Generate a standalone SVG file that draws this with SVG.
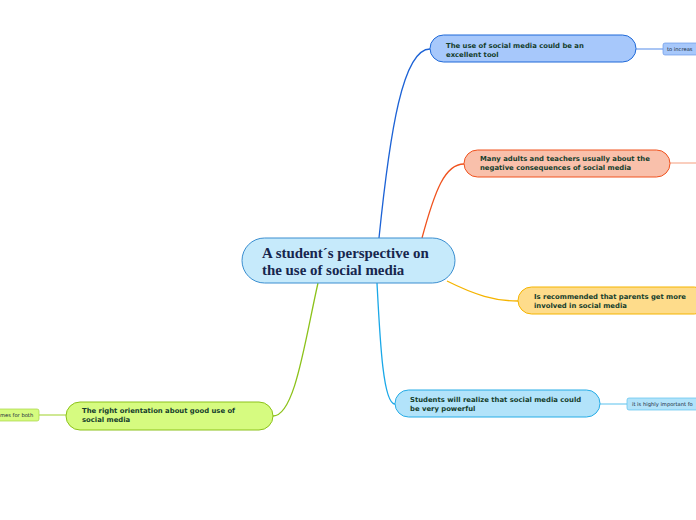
<svg xmlns="http://www.w3.org/2000/svg" width="696" height="520" viewBox="0 0 696 520">
<style>
.t{font-family:"DejaVu Sans",Verdana,sans-serif;font-weight:bold;font-size:6.85px;fill:#143d2c}
.s{font-family:"DejaVu Sans",Verdana,sans-serif;font-size:5.2px;fill:#1a2a3a}
.c{font-family:"Liberation Serif","Times New Roman",serif;font-weight:bold;font-size:14.9px;fill:#17264d}
.conn path{fill:none;stroke-width:1.3}
</style>
<rect width="696" height="520" fill="#ffffff"/>
<g id="connectors" class="conn">
<path d="M379,238 C390,130 403,49 430,49" stroke="#1d63d6"/>
<path d="M422,238 C435,190 445,164 464,164" stroke="#f0521e"/>
<path d="M447,281 C475,295 495,301 518,301" stroke="#f5b400"/>
<path d="M377,283 C380,340 383,404 395,404" stroke="#1aa8e8"/>
<path d="M318,283 C305,340 295,416 273,416" stroke="#8cc21a"/>
<path d="M636,49 L663,49" stroke="#7aa6ef" stroke-width="0.8"/>
<path d="M670,163 L696,163" stroke="#f7b39b" stroke-width="0.8"/>
<path d="M600,404 L627,404" stroke="#7fd0f2" stroke-width="0.8"/>
<path d="M39,415 L66,415" stroke="#b5dc5a" stroke-width="0.8"/>
</g>
<g id="central">
<rect x="242" y="238" width="213" height="45" rx="22.5" fill="#c6eafb" stroke="#3a8ed0" stroke-width="1"/>
<text class="c" x="262" y="258">A student´s perspective on</text>
<text class="c" x="262" y="275">the use of social media</text>
</g>
<g id="node1">
<rect x="430" y="35" width="206" height="27" rx="13.5" fill="#a7c8fb" stroke="#1f69d8" stroke-width="1"/>
<text class="t" x="446" y="48">The use of social media could be an</text>
<text class="t" x="446" y="56.5">excellent tool</text>
</g>
<g id="node1a">
<rect x="663" y="43" width="40" height="12" rx="2" fill="#a7c8fb" stroke="#6b9ae8" stroke-width="0.7"/>
<text class="s" x="667" y="51">to  increas</text>
</g>
<g id="node2">
<rect x="464" y="150" width="206" height="27" rx="13.5" fill="#f9c0ab" stroke="#f0521e" stroke-width="1"/>
<text class="t" x="480" y="161">Many adults and teachers usually about the</text>
<text class="t" x="480" y="170">negative consequences of social media</text>
</g>
<g id="node3">
<rect x="518" y="287" width="190" height="27" rx="13.5" fill="#fedc8b" stroke="#f5b400" stroke-width="1"/>
<text class="t" x="534" y="298.5">Is recommended that parents get more</text>
<text class="t" x="534" y="307.5">involved in social media</text>
</g>
<g id="node4">
<rect x="395" y="390" width="205" height="27" rx="13.5" fill="#b2e3fa" stroke="#27ace6" stroke-width="1"/>
<text class="t" x="410" y="402">Students will realize that social media could</text>
<text class="t" x="410" y="411">be very powerful</text>
</g>
<g id="node4a">
<rect x="627" y="398" width="75" height="12" rx="2" fill="#b2e3fa" stroke="#5cc2ee" stroke-width="0.7"/>
<text class="s" x="632" y="406">it is highly important fo</text>
</g>
<g id="node5">
<rect x="66" y="402" width="207" height="28" rx="14" fill="#d6fb80" stroke="#8cc21a" stroke-width="1"/>
<text class="t" x="82" y="413">The right orientation about good use of</text>
<text class="t" x="82" y="422">social media</text>
</g>
<g id="node5a">
<rect x="-10" y="409" width="49" height="12" rx="2" fill="#d6fb80" stroke="#a8d444" stroke-width="0.7"/>
<text class="s" x="0" y="417">mes for both</text>
</g>
</svg>
